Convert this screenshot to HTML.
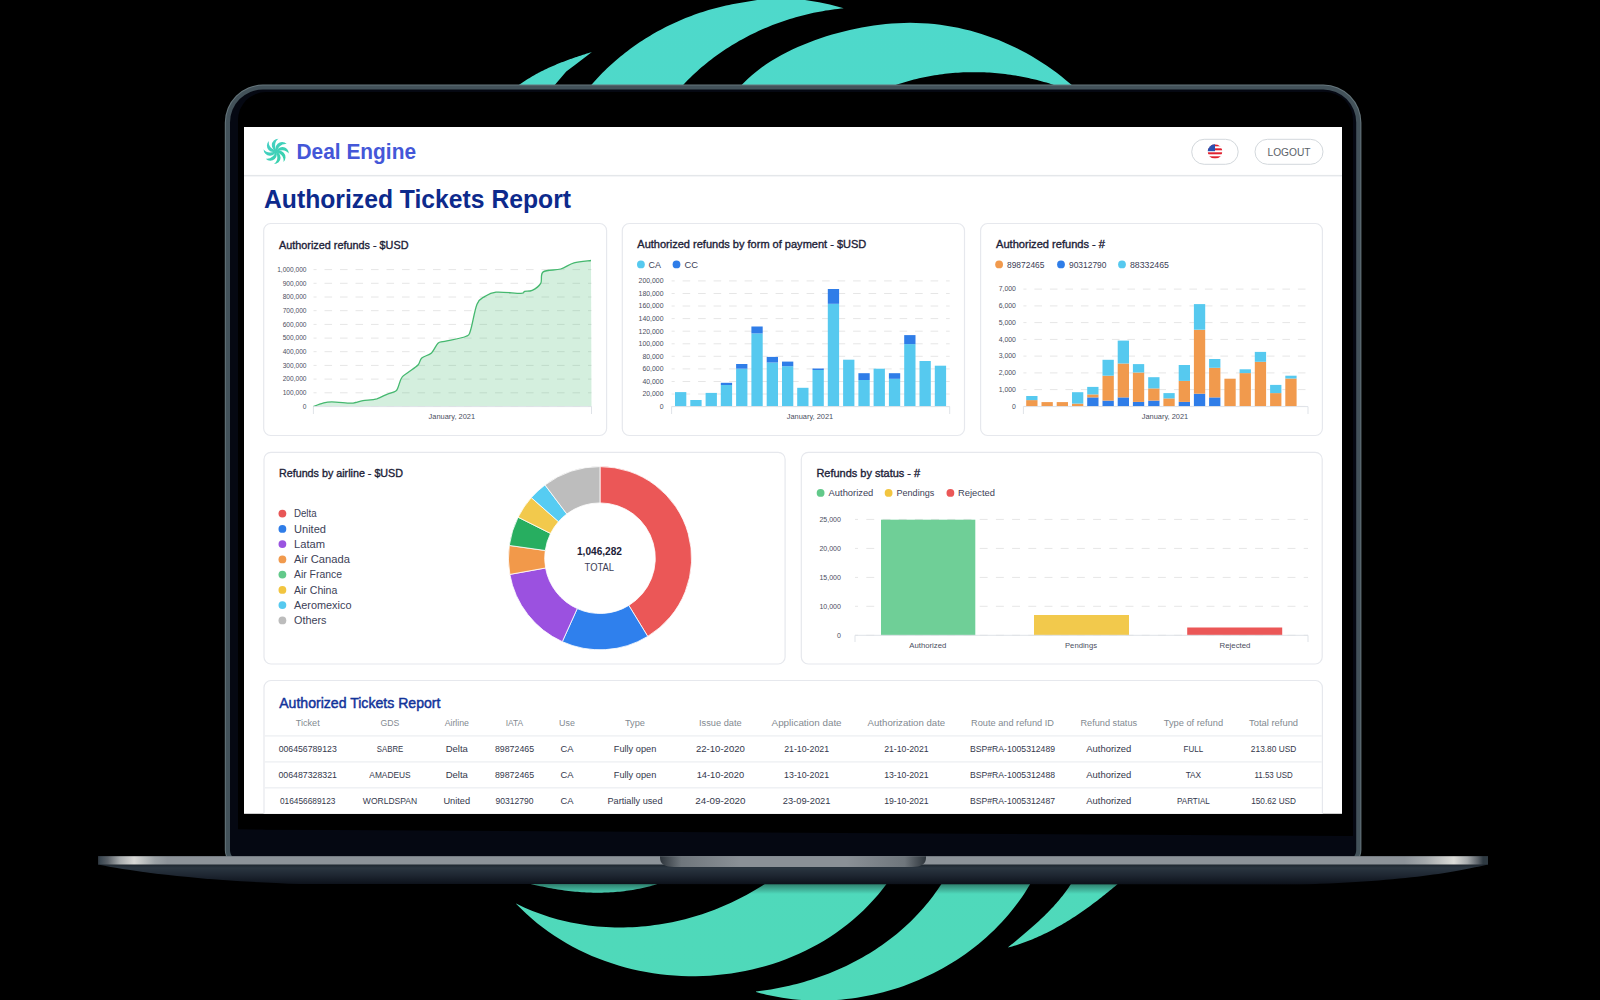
<!DOCTYPE html><html><head><meta charset="utf-8"><style>html,body{margin:0;padding:0;background:#000;width:1600px;height:1000px;overflow:hidden}svg{display:block}text{font-family:"Liberation Sans",sans-serif}</style></head><body>
<svg width="1600" height="1000" viewBox="0 0 1600 1000">
<defs>
<linearGradient id="tealg" x1="0" y1="0" x2="0" y2="1000" gradientUnits="userSpaceOnUse"><stop offset="0" stop-color="#4ed9cb"/><stop offset="1" stop-color="#4fd9b9"/></linearGradient>
<linearGradient id="strip" x1="98" y1="0" x2="1488" y2="0" gradientUnits="userSpaceOnUse"><stop offset="0" stop-color="#2a3138"/><stop offset="0.0015" stop-color="#3a4650"/><stop offset="0.007" stop-color="#5a6168"/><stop offset="0.0158" stop-color="#a8acae"/><stop offset="0.026" stop-color="#d8d8d6"/><stop offset="0.034" stop-color="#b8bcbd"/><stop offset="0.041" stop-color="#9ca2a6"/><stop offset="0.05" stop-color="#8d9399"/><stop offset="0.94" stop-color="#8d9399"/><stop offset="0.955" stop-color="#a4a9ac"/><stop offset="0.9755" stop-color="#dcdcd8"/><stop offset="0.985" stop-color="#a8acae"/><stop offset="0.993" stop-color="#5a6168"/><stop offset="0.9965" stop-color="#2f3a42"/><stop offset="1" stop-color="#2f3a42"/></linearGradient>
<linearGradient id="notch" x1="660" y1="0" x2="926" y2="0" gradientUnits="userSpaceOnUse"><stop offset="0" stop-color="#2e353c"/><stop offset="0.08" stop-color="#6f767c"/><stop offset="0.3" stop-color="#8a9096"/><stop offset="0.7" stop-color="#8a9096"/><stop offset="0.92" stop-color="#6f767c"/><stop offset="1" stop-color="#2e353c"/></linearGradient>
<linearGradient id="base" x1="0" y1="864" x2="0" y2="884" gradientUnits="userSpaceOnUse"><stop offset="0" stop-color="#1c242c"/><stop offset="0.2" stop-color="#2a3540"/><stop offset="0.6" stop-color="#1d2530"/><stop offset="1" stop-color="#0d121b"/></linearGradient>
<linearGradient id="shadow" x1="0" y1="884" x2="0" y2="894" gradientUnits="userSpaceOnUse"><stop offset="0" stop-color="#000" stop-opacity="0.42"/><stop offset="1" stop-color="#000" stop-opacity="0"/></linearGradient>
<linearGradient id="logog" x1="264" y1="139" x2="289" y2="164" gradientUnits="userSpaceOnUse"><stop offset="0" stop-color="#4acfca"/><stop offset="1" stop-color="#33d2a6"/></linearGradient>
</defs>
<path d="M510.51,90.94 L520.30,84.01 L521.40,83.24 L522.51,82.48 L523.62,81.73 L524.74,80.99 L525.86,80.26 L526.99,79.54 L528.12,78.83 L529.26,78.13 L530.40,77.43 L531.55,76.75 L532.70,76.08 L533.86,75.42 L535.02,74.76 L536.19,74.12 L537.36,73.48 L538.54,72.85 L539.72,72.23 L540.90,71.62 L542.09,71.02 L543.28,70.43 L544.48,69.84 L545.68,69.26 L546.89,68.69 L548.09,68.12 L549.31,67.57 L550.52,67.02 L551.74,66.47 L552.96,65.94 L554.19,65.41 L555.41,64.89 L556.64,64.37 L557.88,63.86 L559.11,63.36 L560.35,62.86 L561.59,62.37 L562.84,61.88 L564.08,61.41 L565.33,60.93 L566.58,60.46 L567.84,60.00 L569.09,59.54 L570.35,59.09 L571.61,58.64 L572.87,58.20 L574.13,57.76 L575.39,57.32 L576.66,56.89 L577.92,56.47 L579.19,56.04 L580.46,55.63 L581.73,55.21 L583.00,54.80 L584.27,54.39 L585.54,53.99 L586.81,53.59 L588.08,53.19 L589.36,52.79 L590.63,52.40 L591.90,52.01 L591.90,52.00 L575.60,64.60 L566.25,71.50 L555.60,84.00 L548.00,92.00 Z" fill="url(#tealg)"/>
<path d="M584.28,93.02 L592.16,83.97 L594.17,81.69 L596.21,79.44 L598.28,77.21 L600.38,75.02 L602.50,72.85 L604.66,70.71 L606.84,68.60 L609.04,66.52 L611.28,64.46 L613.54,62.44 L615.82,60.44 L618.13,58.48 L620.46,56.54 L622.82,54.63 L625.20,52.75 L627.61,50.91 L630.04,49.09 L632.49,47.30 L634.96,45.54 L637.45,43.82 L639.97,42.12 L642.50,40.45 L645.06,38.82 L647.64,37.22 L650.23,35.64 L652.84,34.10 L655.48,32.59 L658.13,31.12 L660.80,29.67 L663.48,28.26 L666.19,26.87 L668.91,25.52 L671.64,24.21 L674.39,22.92 L677.16,21.67 L679.94,20.45 L682.74,19.26 L685.54,18.11 L688.37,16.99 L691.20,15.90 L694.05,14.85 L696.91,13.83 L699.78,12.85 L702.67,11.90 L705.56,10.98 L708.47,10.10 L711.38,9.25 L714.31,8.43 L717.24,7.66 L720.19,6.91 L723.14,6.20 L726.10,5.53 L729.06,4.89 L732.04,4.29 L735.02,3.72 L738.00,3.19 L741.00,2.69 L743.99,2.23 L747.00,1.81 L760.00,-0.50 L780.00,-1.20 L800.00,-0.80 L819.00,2.25 L829.80,4.50 L843.75,8.31 L840.72,8.61 L837.69,8.94 L834.66,9.31 L831.63,9.71 L828.61,10.15 L825.59,10.62 L822.58,11.13 L819.57,11.67 L816.57,12.25 L813.57,12.87 L810.58,13.52 L807.60,14.20 L804.63,14.92 L801.66,15.68 L798.70,16.47 L795.75,17.29 L792.81,18.15 L789.88,19.04 L786.96,19.97 L784.04,20.93 L781.15,21.92 L778.26,22.95 L775.38,24.02 L772.52,25.11 L769.67,26.24 L766.84,27.41 L764.02,28.61 L761.21,29.84 L758.42,31.10 L755.64,32.40 L752.88,33.73 L750.14,35.09 L747.41,36.49 L744.70,37.92 L742.01,39.38 L739.34,40.87 L736.68,42.40 L734.05,43.96 L731.43,45.55 L728.84,47.17 L726.26,48.83 L723.71,50.51 L721.18,52.23 L718.67,53.98 L716.18,55.77 L713.72,57.58 L711.28,59.43 L708.86,61.30 L706.47,63.21 L704.11,65.15 L701.77,67.12 L699.45,69.12 L697.16,71.15 L694.90,73.22 L692.67,75.31 L690.46,77.43 L688.29,79.59 L686.14,81.77 L684.02,83.99 L675.78,92.71 Z" fill="url(#tealg)"/>
<path d="M734.72,92.11 L743.08,83.51 L747.39,79.27 L751.85,75.25 L756.47,71.43 L761.24,67.80 L766.13,64.36 L771.16,61.08 L776.29,57.98 L781.53,55.03 L786.87,52.23 L792.29,49.58 L797.79,47.05 L803.36,44.67 L809.00,42.41 L814.70,40.27 L820.45,38.26 L826.25,36.37 L832.08,34.60 L837.96,32.93 L843.86,31.39 L849.80,29.96 L855.75,28.65 L861.73,27.46 L867.74,26.41 L873.75,25.48 L879.78,24.69 L885.82,24.03 L891.87,23.51 L897.93,23.14 L903.99,22.91 L910.04,22.83 L916.09,22.91 L922.14,23.14 L928.17,23.53 L934.20,24.07 L940.20,24.78 L946.19,25.64 L952.16,26.65 L958.09,27.82 L964.00,29.14 L969.88,30.60 L975.72,32.22 L981.52,33.97 L987.28,35.88 L992.99,37.92 L998.65,40.10 L1004.26,42.42 L1009.82,44.88 L1015.31,47.47 L1020.74,50.20 L1026.11,53.05 L1031.40,56.04 L1036.62,59.15 L1041.77,62.39 L1046.84,65.75 L1051.82,69.24 L1056.72,72.84 L1061.53,76.57 L1066.24,80.41 L1070.86,84.37 L1079.88,92.29 L1062.92,87.75 L1051.48,84.15 L1048.96,83.37 L1046.43,82.61 L1043.90,81.88 L1041.36,81.18 L1038.81,80.50 L1036.25,79.85 L1033.70,79.23 L1031.13,78.63 L1028.56,78.05 L1025.98,77.51 L1023.40,76.98 L1020.82,76.49 L1018.23,76.02 L1015.63,75.58 L1013.03,75.16 L1010.43,74.77 L1007.83,74.41 L1005.22,74.07 L1002.61,73.76 L999.99,73.48 L997.37,73.22 L994.75,72.99 L992.13,72.79 L989.51,72.61 L986.89,72.47 L984.26,72.35 L981.64,72.25 L979.01,72.19 L976.38,72.15 L973.76,72.13 L971.13,72.15 L968.50,72.19 L965.88,72.27 L963.25,72.37 L960.63,72.49 L958.01,72.65 L955.39,72.83 L952.77,73.04 L950.15,73.28 L947.54,73.55 L944.93,73.84 L942.32,74.17 L939.71,74.52 L937.11,74.90 L934.51,75.31 L931.92,75.75 L929.33,76.21 L926.75,76.71 L924.16,77.23 L921.59,77.79 L919.02,78.37 L916.46,78.98 L913.90,79.62 L911.34,80.29 L908.80,80.99 L906.26,81.72 L903.73,82.47 L901.20,83.26 L898.68,84.08 L887.29,87.84 Z" fill="url(#tealg)"/>
<path d="M519.71,881.17 L529.41,883.62 L531.55,884.15 L533.70,884.67 L535.85,885.18 L538.01,885.67 L540.17,886.15 L542.34,886.61 L544.51,887.06 L546.69,887.49 L548.87,887.91 L551.06,888.31 L553.24,888.70 L555.44,889.07 L557.63,889.42 L559.83,889.76 L562.03,890.08 L564.24,890.38 L566.44,890.67 L568.65,890.93 L570.86,891.18 L573.07,891.42 L575.29,891.63 L577.50,891.82 L579.72,892.00 L581.94,892.15 L584.16,892.29 L586.38,892.41 L588.60,892.50 L590.82,892.58 L593.04,892.64 L595.26,892.67 L597.48,892.69 L599.70,892.68 L601.92,892.65 L604.14,892.61 L606.36,892.53 L608.58,892.44 L610.79,892.33 L613.00,892.19 L615.22,892.03 L617.42,891.84 L619.63,891.63 L621.84,891.40 L624.04,891.15 L626.24,890.87 L628.43,890.56 L630.63,890.24 L632.82,889.88 L635.00,889.50 L637.19,889.10 L639.36,888.67 L641.54,888.22 L643.71,887.73 L645.87,887.23 L648.03,886.69 L650.19,886.13 L652.34,885.54 L654.48,884.93 L656.62,884.29 L658.76,883.61 L668.28,880.55 Z" fill="url(#tealg)"/>
<path d="M516.05,903.66 L521.11,908.82 L526.32,913.79 L531.67,918.58 L537.15,923.17 L542.78,927.57 L548.52,931.78 L554.39,935.79 L560.38,939.62 L566.47,943.26 L572.67,946.70 L578.97,949.95 L585.36,953.02 L591.84,955.89 L598.40,958.57 L605.04,961.07 L611.75,963.37 L618.52,965.48 L625.35,967.40 L632.24,969.13 L639.17,970.67 L646.15,972.02 L653.17,973.18 L660.21,974.16 L667.28,974.94 L674.37,975.53 L681.48,975.93 L688.59,976.14 L695.70,976.16 L702.82,976.00 L709.92,975.64 L717.02,975.09 L724.09,974.36 L731.14,973.44 L738.15,972.32 L745.13,971.02 L752.07,969.53 L758.96,967.85 L765.80,965.98 L772.58,963.92 L779.29,961.67 L785.93,959.24 L792.50,956.61 L798.99,953.80 L805.39,950.80 L811.69,947.61 L817.90,944.23 L824.01,940.66 L830.00,936.91 L835.88,932.96 L841.64,928.83 L847.27,924.52 L852.77,920.01 L858.13,915.31 L863.35,910.43 L868.42,905.36 L873.34,900.10 L878.09,894.66 L882.68,889.02 L887.10,883.20 L894.19,873.52 L775.93,876.60 L765.93,883.22 L762.20,885.65 L758.43,888.01 L754.62,890.30 L750.77,892.54 L746.89,894.70 L742.97,896.80 L739.02,898.84 L735.03,900.81 L731.01,902.71 L726.96,904.55 L722.88,906.32 L718.78,908.02 L714.64,909.65 L710.48,911.22 L706.29,912.71 L702.08,914.14 L697.85,915.50 L693.60,916.78 L689.33,918.00 L685.04,919.14 L680.73,920.21 L676.40,921.21 L672.06,922.14 L667.71,922.99 L663.34,923.77 L658.96,924.48 L654.57,925.11 L650.18,925.67 L645.77,926.15 L641.36,926.56 L636.94,926.89 L632.52,927.15 L628.10,927.32 L623.67,927.42 L619.24,927.45 L614.82,927.39 L610.39,927.26 L605.97,927.05 L601.56,926.76 L597.15,926.39 L592.74,925.93 L588.34,925.40 L583.96,924.79 L579.58,924.09 L575.22,923.32 L570.86,922.46 L566.53,921.52 L562.20,920.49 L557.90,919.38 L553.61,918.19 L549.34,916.91 L545.09,915.55 L540.86,914.11 L536.65,912.57 L532.47,910.95 L528.31,909.25 L524.18,907.46 L520.08,905.58 L516.00,903.61 Z" fill="url(#tealg)"/>
<path d="M756.02,992.00 L761.19,993.40 L766.40,994.68 L771.63,995.83 L776.89,996.85 L782.17,997.75 L787.46,998.53 L792.78,999.18 L798.10,999.71 L803.44,1000.12 L808.78,1000.41 L814.14,1000.58 L819.49,1000.63 L824.85,1000.56 L830.20,1000.37 L835.56,1000.07 L840.90,999.65 L846.24,999.12 L851.57,998.47 L856.88,997.71 L862.18,996.84 L867.46,995.85 L872.72,994.75 L877.96,993.55 L883.17,992.23 L888.35,990.81 L893.50,989.28 L898.62,987.64 L903.71,985.89 L908.76,984.04 L913.76,982.08 L918.73,980.03 L923.65,977.86 L928.52,975.60 L933.34,973.23 L938.11,970.77 L942.83,968.20 L947.48,965.54 L952.08,962.77 L956.62,959.91 L961.09,956.95 L965.49,953.90 L969.83,950.75 L974.09,947.51 L978.28,944.17 L982.39,940.74 L986.43,937.22 L990.38,933.61 L994.24,929.91 L998.02,926.12 L1001.72,922.24 L1005.32,918.27 L1008.82,914.22 L1012.23,910.08 L1015.54,905.85 L1018.75,901.54 L1021.86,897.14 L1024.86,892.67 L1027.75,888.11 L1030.53,883.46 L1036.57,873.09 L948.34,873.29 L941.85,883.39 L939.74,886.59 L937.59,889.75 L935.38,892.86 L933.13,895.93 L930.82,898.94 L928.47,901.91 L926.07,904.84 L923.62,907.71 L921.12,910.54 L918.58,913.32 L915.99,916.06 L913.36,918.75 L910.69,921.39 L907.98,923.98 L905.22,926.53 L902.43,929.03 L899.59,931.48 L896.72,933.88 L893.80,936.24 L890.85,938.55 L887.87,940.81 L884.85,943.02 L881.79,945.19 L878.70,947.31 L875.58,949.38 L872.43,951.41 L869.25,953.39 L866.03,955.32 L862.79,957.20 L859.51,959.03 L856.21,960.82 L852.88,962.56 L849.53,964.25 L846.15,965.90 L842.75,967.50 L839.32,969.05 L835.87,970.55 L832.40,972.00 L828.91,973.41 L825.40,974.77 L821.86,976.08 L818.31,977.34 L814.74,978.55 L811.16,979.72 L807.56,980.84 L803.94,981.91 L800.31,982.94 L796.67,983.91 L793.01,984.84 L789.34,985.72 L785.66,986.55 L781.97,987.33 L778.28,988.07 L774.57,988.76 L770.85,989.40 L767.13,989.99 L763.41,990.53 L759.67,991.03 L755.94,991.47 Z" fill="url(#tealg)"/>
<path d="M1007.88,947.58 L1009.99,947.00 L1012.09,946.40 L1014.18,945.78 L1016.27,945.14 L1018.34,944.47 L1020.41,943.78 L1022.46,943.06 L1024.51,942.33 L1026.54,941.57 L1028.57,940.80 L1030.59,940.00 L1032.60,939.18 L1034.60,938.34 L1036.59,937.48 L1038.57,936.60 L1040.54,935.71 L1042.51,934.79 L1044.47,933.85 L1046.41,932.90 L1048.35,931.93 L1050.28,930.94 L1052.20,929.94 L1054.12,928.91 L1056.03,927.87 L1057.92,926.82 L1059.81,925.75 L1061.69,924.66 L1063.57,923.56 L1065.44,922.44 L1067.29,921.31 L1069.15,920.16 L1070.99,919.00 L1072.82,917.83 L1074.65,916.64 L1076.47,915.44 L1078.29,914.23 L1080.10,913.00 L1081.90,911.76 L1083.69,910.51 L1085.47,909.25 L1087.25,907.98 L1089.03,906.70 L1090.79,905.41 L1092.55,904.10 L1094.30,902.79 L1096.05,901.47 L1097.79,900.14 L1099.52,898.80 L1101.25,897.45 L1102.97,896.09 L1104.69,894.72 L1106.40,893.35 L1108.10,891.97 L1109.80,890.59 L1111.49,889.19 L1113.17,887.80 L1114.85,886.39 L1116.53,884.98 L1118.20,883.56 L1127.34,875.79 L1077.75,873.34 L1071.28,883.45 L1070.43,884.77 L1069.56,886.08 L1068.68,887.38 L1067.79,888.66 L1066.89,889.94 L1065.98,891.20 L1065.06,892.45 L1064.13,893.68 L1063.18,894.91 L1062.23,896.13 L1061.27,897.33 L1060.30,898.53 L1059.32,899.72 L1058.34,900.89 L1057.34,902.06 L1056.33,903.21 L1055.32,904.36 L1054.30,905.50 L1053.27,906.63 L1052.23,907.75 L1051.18,908.87 L1050.13,909.97 L1049.07,911.07 L1048.00,912.16 L1046.93,913.25 L1045.85,914.32 L1044.76,915.39 L1043.67,916.46 L1042.57,917.51 L1041.47,918.57 L1040.36,919.61 L1039.24,920.65 L1038.12,921.69 L1036.99,922.72 L1035.86,923.74 L1034.73,924.77 L1033.59,925.78 L1032.44,926.79 L1031.29,927.80 L1030.14,928.81 L1028.99,929.81 L1027.83,930.81 L1026.66,931.81 L1025.50,932.80 L1024.33,933.79 L1023.16,934.78 L1021.99,935.77 L1020.81,936.76 L1019.63,937.74 L1018.46,938.72 L1017.27,939.71 L1016.09,940.69 L1014.91,941.67 L1013.72,942.65 L1012.54,943.63 L1011.35,944.61 L1010.16,945.60 L1008.98,946.58 L1007.79,947.56 Z" fill="url(#tealg)"/>
<path d="M262.8,84.6 L1323.4,84.6 A38.0,38.0 0 0 1 1361.4,122.6 L1361.4,850.0 A16.0,16.0 0 0 1 1345.4,866.0 L240.8,866.0 A16.0,16.0 0 0 1 224.8,850.0 L224.8,122.6 A38.0,38.0 0 0 1 262.8,84.6 Z" fill="#66767c"/>
<path d="M262.8,85.6 L1323.4,85.6 A37.0,37.0 0 0 1 1360.4,122.6 L1360.4,850.0 A15.0,15.0 0 0 1 1345.4,865.0 L240.8,865.0 A15.0,15.0 0 0 1 225.8,850.0 L225.8,122.6 A37.0,37.0 0 0 1 262.8,85.6 Z" fill="#43525a"/>
<path d="M263.0,89.4 L1323.2,89.4 A33.0,33.0 0 0 1 1356.2,122.4 L1356.2,850.0 A11.0,11.0 0 0 1 1345.2,861.0 L241.0,861.0 A11.0,11.0 0 0 1 230.0,850.0 L230.0,122.4 A33.0,33.0 0 0 1 263.0,89.4 Z" fill="#050812"/>
<rect x="238" y="92" width="1115" height="737.5" rx="28" fill="#000"/>
<path d="M238,700 L1353,700 L1353,836 L238,829.3 Z" fill="#000"/>
<path d="M98,856.2 L1488,856.2 L1488,864.5 C1455,872 1410,881 1300,884.5 L300,884 C190,880 130,871 98,864.5 Z" fill="url(#base)"/>
<rect x="98" y="856.2" width="1390" height="8.3" fill="url(#strip)"/>
<path d="M660,856.2 L926,856.2 L926,858 C926,864 921,867 912,867 L674,867 C665,867 660,864 660,858 Z" fill="url(#notch)"/>
<rect x="0" y="884" width="1600" height="10" fill="url(#shadow)"/>
<rect x="244" y="127" width="1098" height="686.8" fill="#fff"/>
<svg x="244" y="127" width="1098" height="686.8" viewBox="244 127 1098 686.8" overflow="hidden">
<g><path d="M275.84,153.16 A6.49,6.49 0 0 1 288.81,153.62 A8.32,8.32 0 0 0 275.84,153.16 Z" fill="url(#logog)"/><path d="M274.70,152.39 A6.49,6.49 0 0 1 283.54,161.89 A8.32,8.32 0 0 0 274.70,152.39 Z" fill="url(#logog)"/><path d="M274.44,151.04 A6.49,6.49 0 0 1 273.98,164.01 A8.32,8.32 0 0 0 274.44,151.04 Z" fill="url(#logog)"/><path d="M275.21,149.90 A6.49,6.49 0 0 1 265.71,158.74 A8.32,8.32 0 0 0 275.21,149.90 Z" fill="url(#logog)"/><path d="M276.56,149.64 A6.49,6.49 0 0 1 263.59,149.18 A8.32,8.32 0 0 0 276.56,149.64 Z" fill="url(#logog)"/><path d="M277.70,150.41 A6.49,6.49 0 0 1 268.86,140.91 A8.32,8.32 0 0 0 277.70,150.41 Z" fill="url(#logog)"/><path d="M277.96,151.76 A6.49,6.49 0 0 1 278.42,138.79 A8.32,8.32 0 0 0 277.96,151.76 Z" fill="url(#logog)"/><path d="M277.19,152.90 A6.49,6.49 0 0 1 286.69,144.06 A8.32,8.32 0 0 0 277.19,152.90 Z" fill="url(#logog)"/></g>
<text x="296.5" y="159.4" font-size="21.5" font-weight="bold" fill="#4457d8" textLength="119.5" lengthAdjust="spacingAndGlyphs">Deal Engine</text>
<rect x="244" y="174.9" width="1098" height="1.5" fill="#e4e7ea"/>
<rect x="1191.7" y="139.3" width="46.5" height="25" rx="12.5" fill="#fff" stroke="#d3d8dc" stroke-width="1"/>
<clipPath id="flagc"><circle cx="1215" cy="151.6" r="7.3"/></clipPath>
<g clip-path="url(#flagc)"><rect x="1207" y="144" width="16" height="16" fill="#fff"/>
<rect x="1207" y="144.3" width="16" height="2" fill="#e0202e"/>
<rect x="1207" y="148.3" width="16" height="2" fill="#e0202e"/>
<rect x="1207" y="152.3" width="16" height="2" fill="#e0202e"/>
<rect x="1207" y="156.3" width="16" height="2" fill="#e0202e"/>
<rect x="1207" y="144" width="8" height="7.2" fill="#2a4fb0"/>
</g>
<rect x="1255" y="139.3" width="68" height="25" rx="12.5" fill="#fff" stroke="#d3d8dc" stroke-width="1"/>
<text x="1267.5" y="155.6" font-size="10.5" fill="#5b6268" textLength="43" lengthAdjust="spacingAndGlyphs">LOGOUT</text>
<text x="264" y="208.4" font-size="25.5" font-weight="bold" fill="#0d2a8c" textLength="307" lengthAdjust="spacingAndGlyphs">Authorized Tickets Report</text>
<rect x="263.7" y="223.5" width="342.9" height="212.0" rx="7" fill="#fff" stroke="#e6e8ed" stroke-width="1.2"/>
<text x="279.0" y="248.5" font-size="10.6" fill="#1c2137" stroke="#1c2137" stroke-width="0.34" textLength="129.5" lengthAdjust="spacingAndGlyphs">Authorized refunds - $USD</text>
<line x1="313.5" y1="269.6" x2="591.5" y2="269.6" stroke="#e6e6e6" stroke-width="1" stroke-dasharray="7.59,7.91" stroke-dashoffset="4.50"/>
<text x="306.5" y="271.9" font-size="6.6" fill="#4a4e60" text-anchor="end">1,000,000</text>
<line x1="313.5" y1="283.3" x2="591.5" y2="283.3" stroke="#e6e6e6" stroke-width="1" stroke-dasharray="7.59,7.91" stroke-dashoffset="4.50"/>
<text x="306.5" y="285.6" font-size="6.6" fill="#4a4e60" text-anchor="end">900,000</text>
<line x1="313.5" y1="297.0" x2="591.5" y2="297.0" stroke="#e6e6e6" stroke-width="1" stroke-dasharray="7.59,7.91" stroke-dashoffset="4.50"/>
<text x="306.5" y="299.3" font-size="6.6" fill="#4a4e60" text-anchor="end">800,000</text>
<line x1="313.5" y1="310.7" x2="591.5" y2="310.7" stroke="#e6e6e6" stroke-width="1" stroke-dasharray="7.59,7.91" stroke-dashoffset="4.50"/>
<text x="306.5" y="313.0" font-size="6.6" fill="#4a4e60" text-anchor="end">700,000</text>
<line x1="313.5" y1="324.4" x2="591.5" y2="324.4" stroke="#e6e6e6" stroke-width="1" stroke-dasharray="7.59,7.91" stroke-dashoffset="4.50"/>
<text x="306.5" y="326.7" font-size="6.6" fill="#4a4e60" text-anchor="end">600,000</text>
<line x1="313.5" y1="338.1" x2="591.5" y2="338.1" stroke="#e6e6e6" stroke-width="1" stroke-dasharray="7.59,7.91" stroke-dashoffset="4.50"/>
<text x="306.5" y="340.4" font-size="6.6" fill="#4a4e60" text-anchor="end">500,000</text>
<line x1="313.5" y1="351.7" x2="591.5" y2="351.7" stroke="#e6e6e6" stroke-width="1" stroke-dasharray="7.59,7.91" stroke-dashoffset="4.50"/>
<text x="306.5" y="354.0" font-size="6.6" fill="#4a4e60" text-anchor="end">400,000</text>
<line x1="313.5" y1="365.4" x2="591.5" y2="365.4" stroke="#e6e6e6" stroke-width="1" stroke-dasharray="7.59,7.91" stroke-dashoffset="4.50"/>
<text x="306.5" y="367.7" font-size="6.6" fill="#4a4e60" text-anchor="end">300,000</text>
<line x1="313.5" y1="379.1" x2="591.5" y2="379.1" stroke="#e6e6e6" stroke-width="1" stroke-dasharray="7.59,7.91" stroke-dashoffset="4.50"/>
<text x="306.5" y="381.4" font-size="6.6" fill="#4a4e60" text-anchor="end">200,000</text>
<line x1="313.5" y1="392.8" x2="591.5" y2="392.8" stroke="#e6e6e6" stroke-width="1" stroke-dasharray="7.59,7.91" stroke-dashoffset="4.50"/>
<text x="306.5" y="395.1" font-size="6.6" fill="#4a4e60" text-anchor="end">100,000</text>
<line x1="313.5" y1="406.5" x2="591.5" y2="406.5" stroke="#e6e6e6" stroke-width="1" stroke-dasharray="7.59,7.91" stroke-dashoffset="4.50"/>
<text x="306.5" y="408.8" font-size="6.6" fill="#4a4e60" text-anchor="end">0</text>
<path d="M313.4,406.5 C315.0,405.9 319.9,403.9 323.0,403.1 C326.1,402.3 327.2,401.9 331.8,401.9 C336.3,401.9 346.5,403.0 350.5,403.1 C354.5,403.2 353.4,402.9 355.5,402.5 C357.6,402.1 359.5,401.2 363.0,400.6 C366.5,400.0 372.6,399.9 376.8,398.8 C380.9,397.6 384.9,395.0 388.0,393.8 C391.1,392.5 393.8,392.3 395.5,391.2 C397.2,390.2 397.0,389.8 398.0,387.5 C399.0,385.2 400.1,380.0 401.8,377.5 C403.4,375.0 405.3,374.6 408.0,372.5 C410.7,370.4 415.7,367.4 418.0,365.0 C420.3,362.6 419.5,360.0 421.8,358.0 C424.0,356.0 428.8,355.4 431.5,352.9 C434.2,350.4 435.8,345.1 438.0,343.2 C440.2,341.3 440.1,342.4 444.7,341.3 C449.3,340.2 461.3,338.2 465.6,336.5 C469.9,334.8 468.5,336.2 470.4,330.8 C472.3,325.4 474.6,309.9 477.0,304.2 C479.4,298.5 481.4,298.6 484.6,296.6 C487.8,294.6 490.0,292.8 496.0,292.2 C502.0,291.6 516.0,293.4 520.8,293.3 C525.6,293.2 522.7,291.9 524.6,291.4 C526.5,290.9 529.5,291.6 532.2,290.3 C534.9,289.0 538.9,286.4 540.7,283.3 C542.5,280.2 539.9,274.3 543.2,271.9 C546.5,269.5 555.6,270.5 560.7,269.0 C565.8,267.5 569.0,264.3 574.0,262.9 C579.0,261.5 588.2,260.9 591.0,260.5 L591.5,406.5 L313.4,406.5 Z" fill="#3cb46a" fill-opacity="0.22"/>
<path d="M313.4,406.5 C315.0,405.9 319.9,403.9 323.0,403.1 C326.1,402.3 327.2,401.9 331.8,401.9 C336.3,401.9 346.5,403.0 350.5,403.1 C354.5,403.2 353.4,402.9 355.5,402.5 C357.6,402.1 359.5,401.2 363.0,400.6 C366.5,400.0 372.6,399.9 376.8,398.8 C380.9,397.6 384.9,395.0 388.0,393.8 C391.1,392.5 393.8,392.3 395.5,391.2 C397.2,390.2 397.0,389.8 398.0,387.5 C399.0,385.2 400.1,380.0 401.8,377.5 C403.4,375.0 405.3,374.6 408.0,372.5 C410.7,370.4 415.7,367.4 418.0,365.0 C420.3,362.6 419.5,360.0 421.8,358.0 C424.0,356.0 428.8,355.4 431.5,352.9 C434.2,350.4 435.8,345.1 438.0,343.2 C440.2,341.3 440.1,342.4 444.7,341.3 C449.3,340.2 461.3,338.2 465.6,336.5 C469.9,334.8 468.5,336.2 470.4,330.8 C472.3,325.4 474.6,309.9 477.0,304.2 C479.4,298.5 481.4,298.6 484.6,296.6 C487.8,294.6 490.0,292.8 496.0,292.2 C502.0,291.6 516.0,293.4 520.8,293.3 C525.6,293.2 522.7,291.9 524.6,291.4 C526.5,290.9 529.5,291.6 532.2,290.3 C534.9,289.0 538.9,286.4 540.7,283.3 C542.5,280.2 539.9,274.3 543.2,271.9 C546.5,269.5 555.6,270.5 560.7,269.0 C565.8,267.5 569.0,264.3 574.0,262.9 C579.0,261.5 588.2,260.9 591.0,260.5" fill="none" stroke="#45b86f" stroke-width="1.3"/>
<line x1="313.4" y1="406.6" x2="591.5" y2="406.6" stroke="#dfe3e8" stroke-width="1"/>
<line x1="313.4" y1="406.6" x2="313.4" y2="414" stroke="#dfe3e8" stroke-width="1"/>
<line x1="591.5" y1="406.6" x2="591.5" y2="414" stroke="#dfe3e8" stroke-width="1"/>
<text x="451.8" y="419.0" font-size="7.0" fill="#4a4e60" text-anchor="middle" textLength="46.5" lengthAdjust="spacingAndGlyphs">January, 2021</text>
<rect x="622.3" y="223.5" width="342.2" height="212.0" rx="7" fill="#fff" stroke="#e6e8ed" stroke-width="1.2"/>
<text x="637.3" y="248.4" font-size="10.6" fill="#1c2137" stroke="#1c2137" stroke-width="0.34" textLength="229.0" lengthAdjust="spacingAndGlyphs">Authorized refunds by form of payment - $USD</text>
<circle cx="640.9" cy="264.4" r="3.9" fill="#56c9ef"/>
<text x="648.6" y="267.9" font-size="9.5" fill="#3c4157" textLength="12.4" lengthAdjust="spacingAndGlyphs">CA</text>
<circle cx="676.5" cy="264.4" r="3.9" fill="#2f7de8"/>
<text x="684.4" y="267.9" font-size="9.5" fill="#3c4157" textLength="13.6" lengthAdjust="spacingAndGlyphs">CC</text>
<line x1="671.6" y1="280.9" x2="949.7" y2="280.9" stroke="#e6e6e6" stroke-width="1" stroke-dasharray="7.59,7.91" stroke-dashoffset="4.50"/>
<text x="663.5" y="283.2" font-size="6.9" fill="#4a4e60" text-anchor="end">200,000</text>
<line x1="671.6" y1="293.5" x2="949.7" y2="293.5" stroke="#e6e6e6" stroke-width="1" stroke-dasharray="7.59,7.91" stroke-dashoffset="4.50"/>
<text x="663.5" y="295.8" font-size="6.9" fill="#4a4e60" text-anchor="end">180,000</text>
<line x1="671.6" y1="306.0" x2="949.7" y2="306.0" stroke="#e6e6e6" stroke-width="1" stroke-dasharray="7.59,7.91" stroke-dashoffset="4.50"/>
<text x="663.5" y="308.3" font-size="6.9" fill="#4a4e60" text-anchor="end">160,000</text>
<line x1="671.6" y1="318.6" x2="949.7" y2="318.6" stroke="#e6e6e6" stroke-width="1" stroke-dasharray="7.59,7.91" stroke-dashoffset="4.50"/>
<text x="663.5" y="320.9" font-size="6.9" fill="#4a4e60" text-anchor="end">140,000</text>
<line x1="671.6" y1="331.2" x2="949.7" y2="331.2" stroke="#e6e6e6" stroke-width="1" stroke-dasharray="7.59,7.91" stroke-dashoffset="4.50"/>
<text x="663.5" y="333.5" font-size="6.9" fill="#4a4e60" text-anchor="end">120,000</text>
<line x1="671.6" y1="343.8" x2="949.7" y2="343.8" stroke="#e6e6e6" stroke-width="1" stroke-dasharray="7.59,7.91" stroke-dashoffset="4.50"/>
<text x="663.5" y="346.1" font-size="6.9" fill="#4a4e60" text-anchor="end">100,000</text>
<line x1="671.6" y1="356.3" x2="949.7" y2="356.3" stroke="#e6e6e6" stroke-width="1" stroke-dasharray="7.59,7.91" stroke-dashoffset="4.50"/>
<text x="663.5" y="358.6" font-size="6.9" fill="#4a4e60" text-anchor="end">80,000</text>
<line x1="671.6" y1="368.9" x2="949.7" y2="368.9" stroke="#e6e6e6" stroke-width="1" stroke-dasharray="7.59,7.91" stroke-dashoffset="4.50"/>
<text x="663.5" y="371.2" font-size="6.9" fill="#4a4e60" text-anchor="end">60,000</text>
<line x1="671.6" y1="381.5" x2="949.7" y2="381.5" stroke="#e6e6e6" stroke-width="1" stroke-dasharray="7.59,7.91" stroke-dashoffset="4.50"/>
<text x="663.5" y="383.8" font-size="6.9" fill="#4a4e60" text-anchor="end">40,000</text>
<line x1="671.6" y1="394.0" x2="949.7" y2="394.0" stroke="#e6e6e6" stroke-width="1" stroke-dasharray="7.59,7.91" stroke-dashoffset="4.50"/>
<text x="663.5" y="396.3" font-size="6.9" fill="#4a4e60" text-anchor="end">20,000</text>
<line x1="671.6" y1="406.6" x2="949.7" y2="406.6" stroke="#e6e6e6" stroke-width="1" stroke-dasharray="7.59,7.91" stroke-dashoffset="4.50"/>
<text x="663.5" y="408.9" font-size="6.9" fill="#4a4e60" text-anchor="end">0</text>
<rect x="675.0" y="392.1" width="11.3" height="14.5" fill="#56c9ef"/>
<rect x="690.3" y="400.0" width="11.3" height="6.6" fill="#56c9ef"/>
<rect x="705.6" y="392.9" width="11.3" height="13.7" fill="#56c9ef"/>
<rect x="720.8" y="385.0" width="11.3" height="21.6" fill="#56c9ef"/>
<rect x="720.8" y="382.8" width="11.3" height="2.2" fill="#2f7de8"/>
<rect x="736.1" y="368.7" width="11.3" height="37.9" fill="#56c9ef"/>
<rect x="736.1" y="364.0" width="11.3" height="4.7" fill="#2f7de8"/>
<rect x="751.4" y="333.4" width="11.3" height="73.2" fill="#56c9ef"/>
<rect x="751.4" y="326.5" width="11.3" height="6.9" fill="#2f7de8"/>
<rect x="766.7" y="362.5" width="11.3" height="44.1" fill="#56c9ef"/>
<rect x="766.7" y="356.9" width="11.3" height="5.6" fill="#2f7de8"/>
<rect x="782.0" y="366.2" width="11.3" height="40.4" fill="#56c9ef"/>
<rect x="782.0" y="361.6" width="11.3" height="4.6" fill="#2f7de8"/>
<rect x="797.2" y="387.8" width="11.3" height="18.8" fill="#56c9ef"/>
<rect x="812.5" y="370.0" width="11.3" height="36.6" fill="#56c9ef"/>
<rect x="812.5" y="368.5" width="11.3" height="1.5" fill="#2f7de8"/>
<rect x="827.8" y="303.8" width="11.3" height="102.8" fill="#56c9ef"/>
<rect x="827.8" y="289.0" width="11.3" height="14.8" fill="#2f7de8"/>
<rect x="843.1" y="359.7" width="11.3" height="46.9" fill="#56c9ef"/>
<rect x="858.4" y="380.0" width="11.3" height="26.6" fill="#56c9ef"/>
<rect x="858.4" y="373.2" width="11.3" height="6.8" fill="#2f7de8"/>
<rect x="873.6" y="368.7" width="11.3" height="37.9" fill="#56c9ef"/>
<rect x="888.9" y="378.8" width="11.3" height="27.8" fill="#56c9ef"/>
<rect x="888.9" y="373.2" width="11.3" height="5.6" fill="#2f7de8"/>
<rect x="904.2" y="344.1" width="11.3" height="62.5" fill="#56c9ef"/>
<rect x="904.2" y="335.1" width="11.3" height="9.0" fill="#2f7de8"/>
<rect x="919.5" y="361.0" width="11.3" height="45.6" fill="#56c9ef"/>
<rect x="934.8" y="365.7" width="11.3" height="40.9" fill="#56c9ef"/>
<line x1="671.6" y1="406.6" x2="949.7" y2="406.6" stroke="#dfe3e8" stroke-width="1"/>
<line x1="671.6" y1="406.6" x2="671.6" y2="414" stroke="#dfe3e8" stroke-width="1"/>
<line x1="949.7" y1="406.6" x2="949.7" y2="414" stroke="#dfe3e8" stroke-width="1"/>
<text x="810.0" y="419.0" font-size="7.0" fill="#4a4e60" text-anchor="middle" textLength="46.5" lengthAdjust="spacingAndGlyphs">January, 2021</text>
<rect x="980.6" y="223.5" width="341.8" height="212.0" rx="7" fill="#fff" stroke="#e6e8ed" stroke-width="1.2"/>
<text x="996.0" y="248.4" font-size="10.6" fill="#1c2137" stroke="#1c2137" stroke-width="0.34" textLength="109.0" lengthAdjust="spacingAndGlyphs">Authorized refunds - #</text>
<circle cx="999.1" cy="264.4" r="3.9" fill="#f19a4d"/>
<text x="1007.0" y="267.9" font-size="9.5" fill="#3c4157" textLength="37.5" lengthAdjust="spacingAndGlyphs">89872465</text>
<circle cx="1061.0" cy="264.4" r="3.9" fill="#2f7de8"/>
<text x="1069.0" y="267.9" font-size="9.5" fill="#3c4157" textLength="37.5" lengthAdjust="spacingAndGlyphs">90312790</text>
<circle cx="1122.0" cy="264.4" r="3.9" fill="#56c9ef"/>
<text x="1130.0" y="267.9" font-size="9.5" fill="#3c4157" textLength="39.0" lengthAdjust="spacingAndGlyphs">88332465</text>
<line x1="1023.4" y1="289.1" x2="1308.0" y2="289.1" stroke="#e6e6e6" stroke-width="1" stroke-dasharray="7.59,7.91" stroke-dashoffset="4.50"/>
<text x="1015.9" y="291.4" font-size="6.9" fill="#4a4e60" text-anchor="end">7,000</text>
<line x1="1023.4" y1="305.9" x2="1308.0" y2="305.9" stroke="#e6e6e6" stroke-width="1" stroke-dasharray="7.59,7.91" stroke-dashoffset="4.50"/>
<text x="1015.9" y="308.2" font-size="6.9" fill="#4a4e60" text-anchor="end">6,000</text>
<line x1="1023.4" y1="322.6" x2="1308.0" y2="322.6" stroke="#e6e6e6" stroke-width="1" stroke-dasharray="7.59,7.91" stroke-dashoffset="4.50"/>
<text x="1015.9" y="324.9" font-size="6.9" fill="#4a4e60" text-anchor="end">5,000</text>
<line x1="1023.4" y1="339.4" x2="1308.0" y2="339.4" stroke="#e6e6e6" stroke-width="1" stroke-dasharray="7.59,7.91" stroke-dashoffset="4.50"/>
<text x="1015.9" y="341.7" font-size="6.9" fill="#4a4e60" text-anchor="end">4,000</text>
<line x1="1023.4" y1="356.1" x2="1308.0" y2="356.1" stroke="#e6e6e6" stroke-width="1" stroke-dasharray="7.59,7.91" stroke-dashoffset="4.50"/>
<text x="1015.9" y="358.4" font-size="6.9" fill="#4a4e60" text-anchor="end">3,000</text>
<line x1="1023.4" y1="372.9" x2="1308.0" y2="372.9" stroke="#e6e6e6" stroke-width="1" stroke-dasharray="7.59,7.91" stroke-dashoffset="4.50"/>
<text x="1015.9" y="375.2" font-size="6.9" fill="#4a4e60" text-anchor="end">2,000</text>
<line x1="1023.4" y1="389.6" x2="1308.0" y2="389.6" stroke="#e6e6e6" stroke-width="1" stroke-dasharray="7.59,7.91" stroke-dashoffset="4.50"/>
<text x="1015.9" y="391.9" font-size="6.9" fill="#4a4e60" text-anchor="end">1,000</text>
<line x1="1023.4" y1="406.4" x2="1308.0" y2="406.4" stroke="#e6e6e6" stroke-width="1" stroke-dasharray="7.59,7.91" stroke-dashoffset="4.50"/>
<text x="1015.9" y="408.7" font-size="6.9" fill="#4a4e60" text-anchor="end">0</text>
<rect x="1026.2" y="400.1" width="11.3" height="6.5" fill="#f19a4d"/>
<rect x="1026.2" y="396.0" width="11.3" height="4.1" fill="#56c9ef"/>
<rect x="1041.5" y="402.1" width="11.3" height="4.5" fill="#f19a4d"/>
<rect x="1056.7" y="402.1" width="11.3" height="4.5" fill="#f19a4d"/>
<rect x="1072.0" y="403.6" width="11.3" height="3.0" fill="#f19a4d"/>
<rect x="1072.0" y="392.2" width="11.3" height="11.4" fill="#56c9ef"/>
<rect x="1087.2" y="397.4" width="11.3" height="9.2" fill="#2f7de8"/>
<rect x="1087.2" y="394.4" width="11.3" height="3.0" fill="#f19a4d"/>
<rect x="1087.2" y="386.9" width="11.3" height="7.5" fill="#56c9ef"/>
<rect x="1102.5" y="400.6" width="11.3" height="6.0" fill="#2f7de8"/>
<rect x="1102.5" y="375.7" width="11.3" height="24.9" fill="#f19a4d"/>
<rect x="1102.5" y="359.8" width="11.3" height="15.9" fill="#56c9ef"/>
<rect x="1117.7" y="397.4" width="11.3" height="9.2" fill="#2f7de8"/>
<rect x="1117.7" y="363.5" width="11.3" height="33.9" fill="#f19a4d"/>
<rect x="1117.7" y="340.6" width="11.3" height="22.9" fill="#56c9ef"/>
<rect x="1132.9" y="401.9" width="11.3" height="4.7" fill="#2f7de8"/>
<rect x="1132.9" y="372.5" width="11.3" height="29.4" fill="#f19a4d"/>
<rect x="1132.9" y="364.1" width="11.3" height="8.4" fill="#56c9ef"/>
<rect x="1148.2" y="400.6" width="11.3" height="6.0" fill="#2f7de8"/>
<rect x="1148.2" y="388.4" width="11.3" height="12.2" fill="#f19a4d"/>
<rect x="1148.2" y="377.2" width="11.3" height="11.2" fill="#56c9ef"/>
<rect x="1163.4" y="398.4" width="11.3" height="8.2" fill="#f19a4d"/>
<rect x="1163.4" y="393.1" width="11.3" height="5.3" fill="#56c9ef"/>
<rect x="1178.7" y="401.9" width="11.3" height="4.7" fill="#2f7de8"/>
<rect x="1178.7" y="380.9" width="11.3" height="21.0" fill="#f19a4d"/>
<rect x="1178.7" y="365.0" width="11.3" height="15.9" fill="#56c9ef"/>
<rect x="1193.9" y="393.7" width="11.3" height="12.9" fill="#2f7de8"/>
<rect x="1193.9" y="329.8" width="11.3" height="63.9" fill="#f19a4d"/>
<rect x="1193.9" y="304.1" width="11.3" height="25.6" fill="#56c9ef"/>
<rect x="1209.1" y="397.4" width="11.3" height="9.2" fill="#2f7de8"/>
<rect x="1209.1" y="367.8" width="11.3" height="29.6" fill="#f19a4d"/>
<rect x="1209.1" y="359.0" width="11.3" height="8.8" fill="#56c9ef"/>
<rect x="1224.4" y="378.7" width="11.3" height="27.9" fill="#f19a4d"/>
<rect x="1239.6" y="373.1" width="11.3" height="33.5" fill="#f19a4d"/>
<rect x="1239.6" y="369.3" width="11.3" height="3.8" fill="#56c9ef"/>
<rect x="1254.8" y="361.8" width="11.3" height="44.8" fill="#f19a4d"/>
<rect x="1254.8" y="351.9" width="11.3" height="9.9" fill="#56c9ef"/>
<rect x="1270.1" y="393.1" width="11.3" height="13.5" fill="#f19a4d"/>
<rect x="1270.1" y="384.9" width="11.3" height="8.2" fill="#56c9ef"/>
<rect x="1285.3" y="378.5" width="11.3" height="28.1" fill="#f19a4d"/>
<rect x="1285.3" y="375.7" width="11.3" height="2.8" fill="#56c9ef"/>
<line x1="1023.4" y1="406.6" x2="1308" y2="406.6" stroke="#dfe3e8" stroke-width="1"/>
<line x1="1023.4" y1="406.6" x2="1023.4" y2="414" stroke="#dfe3e8" stroke-width="1"/>
<line x1="1308" y1="406.6" x2="1308" y2="414" stroke="#dfe3e8" stroke-width="1"/>
<text x="1165.0" y="419.0" font-size="7.0" fill="#4a4e60" text-anchor="middle" textLength="46.5" lengthAdjust="spacingAndGlyphs">January, 2021</text>
<rect x="264.0" y="452.3" width="521.1" height="211.7" rx="7" fill="#fff" stroke="#e6e8ed" stroke-width="1.2"/>
<text x="279.0" y="477.0" font-size="10.6" fill="#1c2137" stroke="#1c2137" stroke-width="0.34" textLength="124.0" lengthAdjust="spacingAndGlyphs">Refunds by airline - $USD</text>
<circle cx="282.4" cy="513.6" r="3.9" fill="#e85656"/>
<text x="294.0" y="517.4" font-size="10.5" fill="#3c4157" textLength="22.6" lengthAdjust="spacingAndGlyphs">Delta</text>
<circle cx="282.4" cy="528.9" r="3.9" fill="#2f7de8"/>
<text x="294.0" y="532.6" font-size="10.5" fill="#3c4157" textLength="32.0" lengthAdjust="spacingAndGlyphs">United</text>
<circle cx="282.4" cy="544.1" r="3.9" fill="#9a54e0"/>
<text x="294.0" y="547.9" font-size="10.5" fill="#3c4157" textLength="31.0" lengthAdjust="spacingAndGlyphs">Latam</text>
<circle cx="282.4" cy="559.4" r="3.9" fill="#f19a4d"/>
<text x="294.0" y="563.1" font-size="10.5" fill="#3c4157" textLength="56.0" lengthAdjust="spacingAndGlyphs">Air Canada</text>
<circle cx="282.4" cy="574.6" r="3.9" fill="#62c98a"/>
<text x="294.0" y="578.4" font-size="10.5" fill="#3c4157" textLength="48.0" lengthAdjust="spacingAndGlyphs">Air France</text>
<circle cx="282.4" cy="589.9" r="3.9" fill="#f2c540"/>
<text x="294.0" y="593.6" font-size="10.5" fill="#3c4157" textLength="43.3" lengthAdjust="spacingAndGlyphs">Air China</text>
<circle cx="282.4" cy="605.1" r="3.9" fill="#56c9ef"/>
<text x="294.0" y="608.9" font-size="10.5" fill="#3c4157" textLength="57.5" lengthAdjust="spacingAndGlyphs">Aeromexico</text>
<circle cx="282.4" cy="620.4" r="3.9" fill="#bcbcbc"/>
<text x="294.0" y="624.1" font-size="10.5" fill="#3c4157" textLength="32.5" lengthAdjust="spacingAndGlyphs">Others</text>
<path d="M600.00,466.60 A91.6,91.6 0 0 1 647.72,636.39 L628.81,605.40 A55.3,55.3 0 0 0 600.00,502.90 Z" fill="#eb5757" stroke="#fff" stroke-width="0.8"/>
<path d="M647.72,636.39 A91.6,91.6 0 0 1 562.31,641.68 L577.24,608.60 A55.3,55.3 0 0 0 628.81,605.40 Z" fill="#2f80ed" stroke="#fff" stroke-width="0.8"/>
<path d="M562.31,641.68 A91.6,91.6 0 0 1 509.85,574.42 L545.57,567.99 A55.3,55.3 0 0 0 577.24,608.60 Z" fill="#9b51e0" stroke="#fff" stroke-width="0.8"/>
<path d="M509.85,574.42 A91.6,91.6 0 0 1 509.29,545.45 L545.24,550.50 A55.3,55.3 0 0 0 545.57,567.99 Z" fill="#f2994a" stroke="#fff" stroke-width="0.8"/>
<path d="M509.29,545.45 A91.6,91.6 0 0 1 518.10,517.19 L550.55,533.44 A55.3,55.3 0 0 0 545.24,550.50 Z" fill="#27ae60" stroke="#fff" stroke-width="0.8"/>
<path d="M518.10,517.19 A91.6,91.6 0 0 1 531.29,497.62 L558.52,521.63 A55.3,55.3 0 0 0 550.55,533.44 Z" fill="#f2c94c" stroke="#fff" stroke-width="0.8"/>
<path d="M531.29,497.62 A91.6,91.6 0 0 1 545.00,484.95 L566.80,513.98 A55.3,55.3 0 0 0 558.52,521.63 Z" fill="#56ccf2" stroke="#fff" stroke-width="0.8"/>
<path d="M545.00,484.95 A91.6,91.6 0 0 1 600.00,466.60 L600.00,502.90 A55.3,55.3 0 0 0 566.80,513.98 Z" fill="#bdbdbd" stroke="#fff" stroke-width="0.8"/>
<text x="599.5" y="555.0" font-size="10.5" fill="#1c2137" text-anchor="middle" font-weight="bold" textLength="45.0" lengthAdjust="spacingAndGlyphs">1,046,282</text>
<text x="599.3" y="571.0" font-size="10.5" fill="#3c4157" text-anchor="middle" textLength="29.5" lengthAdjust="spacingAndGlyphs">TOTAL</text>
<rect x="801.3" y="452.3" width="520.9" height="211.7" rx="7" fill="#fff" stroke="#e6e8ed" stroke-width="1.2"/>
<text x="816.4" y="476.9" font-size="10.6" fill="#1c2137" stroke="#1c2137" stroke-width="0.34" textLength="103.8" lengthAdjust="spacingAndGlyphs">Refunds by status - #</text>
<circle cx="820.6" cy="492.9" r="3.9" fill="#62c98a"/>
<text x="828.6" y="496.4" font-size="9.5" fill="#3c4157" textLength="44.7" lengthAdjust="spacingAndGlyphs">Authorized</text>
<circle cx="888.6" cy="492.9" r="3.9" fill="#f2c540"/>
<text x="896.5" y="496.4" font-size="9.5" fill="#3c4157" textLength="37.8" lengthAdjust="spacingAndGlyphs">Pendings</text>
<circle cx="950.4" cy="492.9" r="3.9" fill="#eb5757"/>
<text x="958.0" y="496.4" font-size="9.5" fill="#3c4157" textLength="37.0" lengthAdjust="spacingAndGlyphs">Rejected</text>
<line x1="855.0" y1="519.4" x2="1308.0" y2="519.4" stroke="#e6e6e6" stroke-width="1" stroke-dasharray="7.94,8.26" stroke-dashoffset="4.90"/>
<text x="840.9" y="521.7" font-size="7.0" fill="#4a4e60" text-anchor="end">25,000</text>
<line x1="855.0" y1="548.4" x2="1308.0" y2="548.4" stroke="#e6e6e6" stroke-width="1" stroke-dasharray="7.94,8.26" stroke-dashoffset="4.90"/>
<text x="840.9" y="550.7" font-size="7.0" fill="#4a4e60" text-anchor="end">20,000</text>
<line x1="855.0" y1="577.4" x2="1308.0" y2="577.4" stroke="#e6e6e6" stroke-width="1" stroke-dasharray="7.94,8.26" stroke-dashoffset="4.90"/>
<text x="840.9" y="579.7" font-size="7.0" fill="#4a4e60" text-anchor="end">15,000</text>
<line x1="855.0" y1="606.3" x2="1308.0" y2="606.3" stroke="#e6e6e6" stroke-width="1" stroke-dasharray="7.94,8.26" stroke-dashoffset="4.90"/>
<text x="840.9" y="608.6" font-size="7.0" fill="#4a4e60" text-anchor="end">10,000</text>
<line x1="855.0" y1="635.3" x2="1308.0" y2="635.3" stroke="#e6e6e6" stroke-width="1" stroke-dasharray="7.94,8.26" stroke-dashoffset="4.90"/>
<text x="840.9" y="637.6" font-size="7.0" fill="#4a4e60" text-anchor="end">0</text>
<rect x="881" y="519.7" width="94.3" height="115.6" fill="#6fcf97"/>
<rect x="1034" y="615" width="95" height="20.3" fill="#f2c94c"/>
<rect x="1187.2" y="627.5" width="95" height="7.8" fill="#eb5757"/>
<line x1="855" y1="635.3" x2="1308" y2="635.3" stroke="#dfe3e8" stroke-width="1"/>
<line x1="855" y1="635.3" x2="855" y2="642" stroke="#dfe3e8" stroke-width="1"/>
<line x1="1308" y1="635.3" x2="1308" y2="642" stroke="#dfe3e8" stroke-width="1"/>
<text x="927.8" y="647.8" font-size="7.0" fill="#4a4e60" text-anchor="middle" textLength="37.0" lengthAdjust="spacingAndGlyphs">Authorized</text>
<text x="1081.0" y="647.8" font-size="7.0" fill="#4a4e60" text-anchor="middle" textLength="32.0" lengthAdjust="spacingAndGlyphs">Pendings</text>
<text x="1235.0" y="647.8" font-size="7.0" fill="#4a4e60" text-anchor="middle" textLength="31.0" lengthAdjust="spacingAndGlyphs">Rejected</text>
<rect x="264.0" y="680.5" width="1058.4" height="219.5" rx="7" fill="#fff" stroke="#e6e8ed" stroke-width="1.2"/>
<text x="279.2" y="707.5" font-size="14.0" fill="#12339a" stroke="#12339a" stroke-width="0.45" textLength="161.2" lengthAdjust="spacingAndGlyphs">Authorized Tickets Report</text>
<text x="307.7" y="726.1" font-size="9.6" fill="#838a91" text-anchor="middle" textLength="24.0" lengthAdjust="spacingAndGlyphs">Ticket</text>
<text x="307.7" y="751.7" font-size="9.6" fill="#34384c" text-anchor="middle" textLength="58.1" lengthAdjust="spacingAndGlyphs">006456789123</text>
<text x="307.7" y="777.8" font-size="9.6" fill="#34384c" text-anchor="middle" textLength="58.5" lengthAdjust="spacingAndGlyphs">006487328321</text>
<text x="307.7" y="803.8" font-size="9.6" fill="#34384c" text-anchor="middle" textLength="55.4" lengthAdjust="spacingAndGlyphs">016456689123</text>
<text x="390.0" y="726.1" font-size="9.6" fill="#838a91" text-anchor="middle" textLength="18.8" lengthAdjust="spacingAndGlyphs">GDS</text>
<text x="390.0" y="751.7" font-size="9.6" fill="#34384c" text-anchor="middle" textLength="26.5" lengthAdjust="spacingAndGlyphs">SABRE</text>
<text x="390.0" y="777.8" font-size="9.6" fill="#34384c" text-anchor="middle" textLength="41.3" lengthAdjust="spacingAndGlyphs">AMADEUS</text>
<text x="390.0" y="803.8" font-size="9.6" fill="#34384c" text-anchor="middle" textLength="54.3" lengthAdjust="spacingAndGlyphs">WORLDSPAN</text>
<text x="456.8" y="726.1" font-size="9.6" fill="#838a91" text-anchor="middle" textLength="24.3" lengthAdjust="spacingAndGlyphs">Airline</text>
<text x="456.8" y="751.7" font-size="9.6" fill="#34384c" text-anchor="middle" textLength="22.2" lengthAdjust="spacingAndGlyphs">Delta</text>
<text x="456.8" y="777.8" font-size="9.6" fill="#34384c" text-anchor="middle" textLength="22.2" lengthAdjust="spacingAndGlyphs">Delta</text>
<text x="456.8" y="803.8" font-size="9.6" fill="#34384c" text-anchor="middle" textLength="26.7" lengthAdjust="spacingAndGlyphs">United</text>
<text x="514.5" y="726.1" font-size="9.6" fill="#838a91" text-anchor="middle" textLength="17.5" lengthAdjust="spacingAndGlyphs">IATA</text>
<text x="514.5" y="751.7" font-size="9.6" fill="#34384c" text-anchor="middle" textLength="39.2" lengthAdjust="spacingAndGlyphs">89872465</text>
<text x="514.5" y="777.8" font-size="9.6" fill="#34384c" text-anchor="middle" textLength="39.2" lengthAdjust="spacingAndGlyphs">89872465</text>
<text x="514.5" y="803.8" font-size="9.6" fill="#34384c" text-anchor="middle" textLength="38.0" lengthAdjust="spacingAndGlyphs">90312790</text>
<text x="567.0" y="726.1" font-size="9.6" fill="#838a91" text-anchor="middle" textLength="15.8" lengthAdjust="spacingAndGlyphs">Use</text>
<text x="567.0" y="751.7" font-size="9.6" fill="#34384c" text-anchor="middle" textLength="13.0" lengthAdjust="spacingAndGlyphs">CA</text>
<text x="567.0" y="777.8" font-size="9.6" fill="#34384c" text-anchor="middle" textLength="13.0" lengthAdjust="spacingAndGlyphs">CA</text>
<text x="567.0" y="803.8" font-size="9.6" fill="#34384c" text-anchor="middle" textLength="13.0" lengthAdjust="spacingAndGlyphs">CA</text>
<text x="635.0" y="726.1" font-size="9.6" fill="#838a91" text-anchor="middle" textLength="20.0" lengthAdjust="spacingAndGlyphs">Type</text>
<text x="635.0" y="751.7" font-size="9.6" fill="#34384c" text-anchor="middle" textLength="42.5" lengthAdjust="spacingAndGlyphs">Fully open</text>
<text x="635.0" y="777.8" font-size="9.6" fill="#34384c" text-anchor="middle" textLength="42.5" lengthAdjust="spacingAndGlyphs">Fully open</text>
<text x="635.0" y="803.8" font-size="9.6" fill="#34384c" text-anchor="middle" textLength="55.0" lengthAdjust="spacingAndGlyphs">Partially used</text>
<text x="720.4" y="726.1" font-size="9.6" fill="#838a91" text-anchor="middle" textLength="42.7" lengthAdjust="spacingAndGlyphs">Issue date</text>
<text x="720.4" y="751.7" font-size="9.6" fill="#34384c" text-anchor="middle" textLength="49.0" lengthAdjust="spacingAndGlyphs">22-10-2020</text>
<text x="720.4" y="777.8" font-size="9.6" fill="#34384c" text-anchor="middle" textLength="47.4" lengthAdjust="spacingAndGlyphs">14-10-2020</text>
<text x="720.4" y="803.8" font-size="9.6" fill="#34384c" text-anchor="middle" textLength="50.3" lengthAdjust="spacingAndGlyphs">24-09-2020</text>
<text x="806.6" y="726.1" font-size="9.6" fill="#838a91" text-anchor="middle" textLength="70.0" lengthAdjust="spacingAndGlyphs">Application date</text>
<text x="806.6" y="751.7" font-size="9.6" fill="#34384c" text-anchor="middle" textLength="44.9" lengthAdjust="spacingAndGlyphs">21-10-2021</text>
<text x="806.6" y="777.8" font-size="9.6" fill="#34384c" text-anchor="middle" textLength="45.0" lengthAdjust="spacingAndGlyphs">13-10-2021</text>
<text x="806.6" y="803.8" font-size="9.6" fill="#34384c" text-anchor="middle" textLength="47.7" lengthAdjust="spacingAndGlyphs">23-09-2021</text>
<text x="906.4" y="726.1" font-size="9.6" fill="#838a91" text-anchor="middle" textLength="77.6" lengthAdjust="spacingAndGlyphs">Authorization date</text>
<text x="906.4" y="751.7" font-size="9.6" fill="#34384c" text-anchor="middle" textLength="44.5" lengthAdjust="spacingAndGlyphs">21-10-2021</text>
<text x="906.4" y="777.8" font-size="9.6" fill="#34384c" text-anchor="middle" textLength="44.5" lengthAdjust="spacingAndGlyphs">13-10-2021</text>
<text x="906.4" y="803.8" font-size="9.6" fill="#34384c" text-anchor="middle" textLength="44.5" lengthAdjust="spacingAndGlyphs">19-10-2021</text>
<text x="1012.5" y="726.1" font-size="9.6" fill="#838a91" text-anchor="middle" textLength="83.0" lengthAdjust="spacingAndGlyphs">Route and refund ID</text>
<text x="1012.5" y="751.7" font-size="9.6" fill="#34384c" text-anchor="middle" textLength="85.0" lengthAdjust="spacingAndGlyphs">BSP#RA-1005312489</text>
<text x="1012.5" y="777.8" font-size="9.6" fill="#34384c" text-anchor="middle" textLength="85.0" lengthAdjust="spacingAndGlyphs">BSP#RA-1005312488</text>
<text x="1012.5" y="803.8" font-size="9.6" fill="#34384c" text-anchor="middle" textLength="85.0" lengthAdjust="spacingAndGlyphs">BSP#RA-1005312487</text>
<text x="1108.8" y="726.1" font-size="9.6" fill="#838a91" text-anchor="middle" textLength="56.6" lengthAdjust="spacingAndGlyphs">Refund status</text>
<text x="1108.8" y="751.7" font-size="9.6" fill="#34384c" text-anchor="middle" textLength="45.1" lengthAdjust="spacingAndGlyphs">Authorized</text>
<text x="1108.8" y="777.8" font-size="9.6" fill="#34384c" text-anchor="middle" textLength="45.1" lengthAdjust="spacingAndGlyphs">Authorized</text>
<text x="1108.8" y="803.8" font-size="9.6" fill="#34384c" text-anchor="middle" textLength="45.1" lengthAdjust="spacingAndGlyphs">Authorized</text>
<text x="1193.4" y="726.1" font-size="9.6" fill="#838a91" text-anchor="middle" textLength="59.3" lengthAdjust="spacingAndGlyphs">Type of refund</text>
<text x="1193.4" y="751.7" font-size="9.6" fill="#34384c" text-anchor="middle" textLength="19.6" lengthAdjust="spacingAndGlyphs">FULL</text>
<text x="1193.4" y="777.8" font-size="9.6" fill="#34384c" text-anchor="middle" textLength="15.5" lengthAdjust="spacingAndGlyphs">TAX</text>
<text x="1193.4" y="803.8" font-size="9.6" fill="#34384c" text-anchor="middle" textLength="32.8" lengthAdjust="spacingAndGlyphs">PARTIAL</text>
<text x="1273.6" y="726.1" font-size="9.6" fill="#838a91" text-anchor="middle" textLength="49.0" lengthAdjust="spacingAndGlyphs">Total refund</text>
<text x="1273.6" y="751.7" font-size="9.6" fill="#34384c" text-anchor="middle" textLength="45.5" lengthAdjust="spacingAndGlyphs">213.80 USD</text>
<text x="1273.6" y="777.8" font-size="9.6" fill="#34384c" text-anchor="middle" textLength="38.2" lengthAdjust="spacingAndGlyphs">11.53 USD</text>
<text x="1273.6" y="803.8" font-size="9.6" fill="#34384c" text-anchor="middle" textLength="44.8" lengthAdjust="spacingAndGlyphs">150.62 USD</text>
<rect x="264.6" y="735.2" width="1057.2" height="1.4" fill="#eef0f3"/>
<rect x="264.6" y="761.2" width="1057.2" height="1.4" fill="#eef0f3"/>
<rect x="264.6" y="787.1" width="1057.2" height="1.4" fill="#eef0f3"/>
</svg>
</svg></body></html>
